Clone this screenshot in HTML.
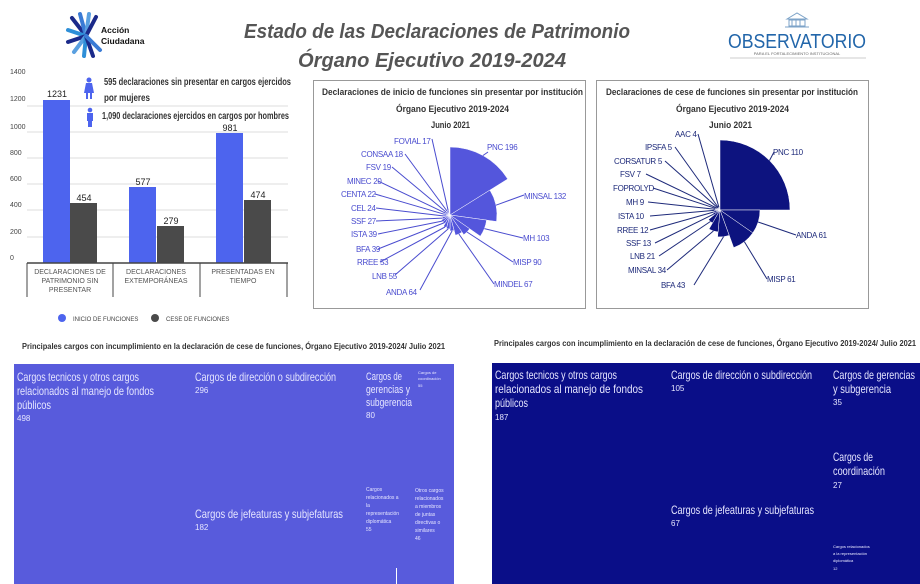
<!DOCTYPE html>
<html><head><meta charset="utf-8"><style>
html,body{margin:0;padding:0;background:#fff;}
svg{display:block;}
.n{font-family:"Liberation Sans Narrow","Liberation Sans",sans-serif;}
.s{font-family:"Liberation Sans",sans-serif;}
</style></head><body>
<svg id="g" width="920" height="584" viewBox="0 0 920 584" xmlns="http://www.w3.org/2000/svg">
<!-- logo -->
<g stroke-width="4" stroke-linecap="round">
<line x1="86" y1="36" x2="72" y2="18" stroke="#1b2a8a"/>
<line x1="86" y1="36" x2="80" y2="14" stroke="#3a7bd5"/>
<line x1="86" y1="36" x2="89" y2="14" stroke="#5aa0e0"/>
<line x1="86" y1="36" x2="96" y2="17" stroke="#1b2a8a"/>
<line x1="86" y1="36" x2="68" y2="30" stroke="#2e8fd8"/>
<line x1="86" y1="36" x2="68" y2="42" stroke="#1b2a8a"/>
<line x1="86" y1="36" x2="74" y2="52" stroke="#5aa0e0"/>
<line x1="86" y1="36" x2="84" y2="56" stroke="#2e8fd8"/>
<line x1="86" y1="36" x2="93" y2="56" stroke="#1b2a8a"/>
<line x1="86" y1="36" x2="100" y2="50" stroke="#3a7bd5"/>
</g>
<text x="101" y="33" class="s" font-size="8.5" font-weight="bold" fill="#111">Acción</text>
<text x="101" y="44" class="s" font-size="8.5" font-weight="bold" fill="#111">Ciudadana</text>
<!-- title -->
<text x="244" y="38" textLength="386" lengthAdjust="spacingAndGlyphs" class="s" font-size="20" font-weight="bold" font-style="italic" fill="#555">Estado de las Declaraciones de Patrimonio</text>
<text x="298" y="67" textLength="268" lengthAdjust="spacingAndGlyphs" class="s" font-size="20" font-weight="bold" font-style="italic" fill="#555">Órgano Ejecutivo 2019-2024</text>
<!-- observatorio -->
<g fill="none" stroke="#7da3c8" stroke-width="1">
<path d="M787 19 L797 13 L807 19 Z"/><rect x="789" y="20" width="16" height="6"/>
<line x1="792" y1="20" x2="792" y2="26"/><line x1="796" y1="20" x2="796" y2="26"/><line x1="800" y1="20" x2="800" y2="26"/><line x1="785" y1="27" x2="809" y2="27"/>
</g>
<text x="728" y="48" textLength="138" lengthAdjust="spacingAndGlyphs" class="s" font-size="20" fill="#2266aa">OBSERVATORIO</text>
<text x="797" y="55" text-anchor="middle" class="s" font-size="4" fill="#666">PARA EL FORTALECIMIENTO INSTITUCIONAL</text>
<line x1="730" y1="58" x2="866" y2="58" stroke="#ccc"/>

<!-- bar chart -->
<g class="s" font-size="7" fill="#444">
<text x="10" y="74">1400</text><text x="10" y="101">1200</text><text x="10" y="129">1000</text>
<text x="10" y="155">800</text><text x="10" y="181">600</text><text x="10" y="207">400</text>
<text x="10" y="234">200</text><text x="10" y="260">0</text>
</g>
<g stroke="#ddd" stroke-width="1">
<line x1="27" y1="106" x2="288" y2="106"/><line x1="27" y1="132" x2="288" y2="132"/><line x1="27" y1="158" x2="288" y2="158"/>
<line x1="27" y1="184" x2="288" y2="184"/><line x1="27" y1="210" x2="288" y2="210"/><line x1="27" y1="237" x2="288" y2="237"/>
</g>
<g fill="#4d64ee">
<rect x="43" y="100" width="27" height="163"/><rect x="129" y="187" width="27" height="76"/><rect x="216" y="133" width="27" height="130"/>
</g>
<g fill="#4a4a4a">
<rect x="70" y="203" width="27" height="60"/><rect x="157" y="226" width="27" height="37"/><rect x="244" y="200" width="27" height="63"/>
</g>
<g class="s" font-size="9" fill="#222" text-anchor="middle">
<text x="57" y="97">1231</text><text x="84" y="201">454</text><text x="143" y="185">577</text>
<text x="171" y="224">279</text><text x="230" y="131">981</text><text x="258" y="198">474</text>
</g>
<line x1="27" y1="263" x2="288" y2="263" stroke="#444" stroke-width="1.5"/>
<g stroke="#444"><line x1="27" y1="263" x2="27" y2="297"/><line x1="113" y1="263" x2="113" y2="297"/><line x1="200" y1="263" x2="200" y2="297"/><line x1="287" y1="263" x2="287" y2="297"/></g>
<g class="s" font-size="7" fill="#555" text-anchor="middle">
<text x="70" y="274">DECLARACIONES DE</text><text x="70" y="283">PATRIMONIO SIN</text><text x="70" y="292">PRESENTAR</text>
<text x="156" y="274">DECLARACIONES</text><text x="156" y="283">EXTEMPORÁNEAS</text>
<text x="243" y="274">PRESENTADAS EN</text><text x="243" y="283">TIEMPO</text>
</g>
<circle cx="62" cy="318" r="4" fill="#4d64ee"/><text x="73" y="321" class="s" font-size="6" fill="#444">INICIO DE FUNCIONES</text>
<circle cx="155" cy="318" r="4" fill="#4a4a4a"/><text x="166" y="321" class="s" font-size="6" fill="#444">CESE DE FUNCIONES</text>
<!-- figures -->
<circle cx="89" cy="80" r="2.5" fill="#4d64ee"/><path d="M86 83 L92 83 L94 93 L84 93 Z" fill="#4d64ee"/><rect x="86" y="93" width="2" height="6" fill="#4d64ee"/><rect x="90" y="93" width="2" height="6" fill="#4d64ee"/>
<circle cx="90" cy="110" r="2.3" fill="#4d64ee"/><rect x="87" y="113" width="6" height="8" fill="#4d64ee"/><rect x="88" y="121" width="4" height="6" fill="#4d64ee"/>
<g class="s" font-size="10" font-weight="bold" fill="#333" lengthAdjust="spacingAndGlyphs">
<text x="104" y="85" textLength="187" lengthAdjust="spacingAndGlyphs">595 declaraciones sin presentar en cargos ejercidos</text>
<text x="104" y="101" textLength="46" lengthAdjust="spacingAndGlyphs">por mujeres</text>
<text x="102" y="119" textLength="187" lengthAdjust="spacingAndGlyphs">1,090 declaraciones ejercidos en cargos por hombres</text>
</g>

<!-- chart 2 box -->
<rect x="313.5" y="80.5" width="272" height="228" fill="none" stroke="#999"/>
<g class="s" font-size="9" font-weight="bold" fill="#333">
<text x="322" y="95" textLength="261" lengthAdjust="spacingAndGlyphs">Declaraciones de inicio de funciones sin presentar por institución</text>
<text x="396" y="112" textLength="113" lengthAdjust="spacingAndGlyphs">Órgano Ejecutivo 2019-2024</text>
<text x="431" y="128" textLength="39" lengthAdjust="spacingAndGlyphs">Junio 2021</text>
</g>
<g id="w2" fill="#5456dc" stroke="#fff" stroke-width="0.5"></g>
<g id="l2" fill="none" stroke="#4a4ccf" stroke-width="1"></g>
<g class="s" font-size="8" fill="#4a4ccf" letter-spacing="-0.3">
<text x="487" y="150">PNC 196</text><text x="524" y="199">MINSAL 132</text><text x="523" y="241">MH 103</text>
<text x="513" y="265">MISP 90</text><text x="494" y="287">MINDEL 67</text><text x="386" y="295">ANDA 64</text>
<text x="372" y="279">LNB 55</text><text x="357" y="265">RREE 53</text><text x="356" y="252">BFA 39</text>
<text x="351" y="237">ISTA 39</text><text x="351" y="224">SSF 27</text><text x="351" y="211">CEL 24</text>
<text x="341" y="197">CENTA 22</text><text x="347" y="184">MINEC 20</text><text x="366" y="170">FSV 19</text>
<text x="361" y="157">CONSAA 18</text><text x="394" y="144">FOVIAL 17</text>
</g>

<!-- chart 3 box -->
<rect x="596.5" y="80.5" width="272" height="228" fill="none" stroke="#999"/>
<g class="s" font-size="9" font-weight="bold" fill="#333">
<text x="606" y="95" textLength="252" lengthAdjust="spacingAndGlyphs">Declaraciones de cese de funciones sin presentar por institución</text>
<text x="676" y="112" textLength="113" lengthAdjust="spacingAndGlyphs">Órgano Ejecutivo 2019-2024</text>
<text x="709" y="128" textLength="43" lengthAdjust="spacingAndGlyphs">Junio 2021</text>
</g>
<g id="w3" fill="#0d137f" stroke="#fff" stroke-width="0.5"></g>
<g id="l3" fill="none" stroke="#1e2a7a" stroke-width="1"></g>
<g class="s" font-size="8" fill="#1e2a7a" letter-spacing="-0.3">
<text x="773" y="155">PNC 110</text><text x="796" y="238">ANDA 61</text><text x="767" y="282">MISP 61</text>
<text x="661" y="288">BFA 43</text><text x="628" y="273">MINSAL 34</text><text x="630" y="259">LNB 21</text>
<text x="626" y="246">SSF 13</text><text x="617" y="233">RREE 12</text><text x="618" y="219">ISTA 10</text>
<text x="626" y="205">MH 9</text><text x="613" y="191">FOPROLYD</text><text x="620" y="177">FSV 7</text>
<text x="614" y="164">CORSATUR 5</text><text x="645" y="150">IPSFA 5</text><text x="675" y="137">AAC 4</text>
</g>

<!-- treemap titles -->
<text x="22" y="349" textLength="423" lengthAdjust="spacingAndGlyphs" class="s" font-size="8" font-weight="bold" fill="#333">Principales cargos con incumplimiento en la declaración de cese de funciones, Órgano Ejecutivo 2019-2024/ Julio 2021</text>
<text x="494" y="346" textLength="422" lengthAdjust="spacingAndGlyphs" class="s" font-size="8" font-weight="bold" fill="#333">Principales cargos con incumplimiento en la declaración de cese de funciones, Órgano Ejecutivo 2019-2024/ Julio 2021</text>

<!-- left treemap -->
<rect x="14" y="364" width="440" height="220" fill="#585bdc"/>
<line x1="396.5" y1="568" x2="396.5" y2="584" stroke="#fff"/>
<g class="s" fill="#e6e6ff">
<g font-size="12"><text x="17" y="381" textLength="122" lengthAdjust="spacingAndGlyphs">Cargos tecnicos y otros cargos</text><text x="17" y="395" textLength="137" lengthAdjust="spacingAndGlyphs">relacionados al manejo de fondos</text><text x="17" y="409" textLength="34" lengthAdjust="spacingAndGlyphs">públicos</text></g>
<text x="17" y="421" font-size="8">498</text>
<text x="195" y="381" font-size="12" textLength="141" lengthAdjust="spacingAndGlyphs">Cargos de dirección o subdirección</text><text x="195" y="393" font-size="8">296</text>
<g font-size="11"><text x="366" y="380" textLength="36" lengthAdjust="spacingAndGlyphs">Cargos de</text><text x="366" y="393" textLength="44" lengthAdjust="spacingAndGlyphs">gerencias y</text><text x="366" y="406" textLength="46" lengthAdjust="spacingAndGlyphs">subgerencia</text></g><text x="366" y="418" font-size="8">80</text>
<g font-size="4"><text x="418" y="374">Cargos de</text><text x="418" y="380">coordinación</text><text x="418" y="387">55</text></g>
<text x="195" y="518" font-size="12" textLength="148" lengthAdjust="spacingAndGlyphs">Cargos de jefeaturas y subjefaturas</text><text x="195" y="530" font-size="8">182</text>
<g font-size="5"><text x="366" y="491">Cargos</text><text x="366" y="499">relacionados a</text><text x="366" y="507">la</text><text x="366" y="515">representación</text><text x="366" y="523">diplomática</text><text x="366" y="531">55</text></g>
<g font-size="5"><text x="415" y="492">Otros cargos</text><text x="415" y="500">relacionados</text><text x="415" y="508">a miembros</text><text x="415" y="516">de juntas</text><text x="415" y="524">directivas o</text><text x="415" y="532">similares</text><text x="415" y="540">46</text></g>
</g>

<!-- right treemap -->
<rect x="492" y="363" width="428" height="221" fill="#0a0e88"/>
<g class="s" fill="#e6e6ff">
<g font-size="12"><text x="495" y="379" textLength="122" lengthAdjust="spacingAndGlyphs">Cargos tecnicos y otros cargos</text><text x="495" y="393" textLength="148" lengthAdjust="spacingAndGlyphs">relacionados al manejo de fondos</text><text x="495" y="407" textLength="33" lengthAdjust="spacingAndGlyphs">públicos</text></g>
<text x="495" y="420" font-size="8">187</text>
<text x="671" y="379" font-size="12" textLength="141" lengthAdjust="spacingAndGlyphs">Cargos de dirección o subdirección</text><text x="671" y="391" font-size="8">105</text>
<g font-size="12"><text x="833" y="379" textLength="82" lengthAdjust="spacingAndGlyphs">Cargos de gerencias</text><text x="833" y="393" textLength="58" lengthAdjust="spacingAndGlyphs">y subgerencia</text></g><text x="833" y="405" font-size="8">35</text>
<g font-size="12"><text x="833" y="461" textLength="40" lengthAdjust="spacingAndGlyphs">Cargos de</text><text x="833" y="475" textLength="52" lengthAdjust="spacingAndGlyphs">coordinación</text></g><text x="833" y="488" font-size="8">27</text>
<text x="671" y="514" font-size="12" textLength="143" lengthAdjust="spacingAndGlyphs">Cargos de jefeaturas y subjefaturas</text><text x="671" y="526" font-size="8">67</text>
<g font-size="4"><text x="833" y="548">Cargos relacionados</text><text x="833" y="555">a la representación</text><text x="833" y="562">diplomática</text><text x="833" y="570">12</text></g>
</g>
</svg>
<script>
function wedge(cx,cy,a0,a1,r){var t=function(a){a=(a-90)*Math.PI/180;return [cx+r*Math.cos(a),cy+r*Math.sin(a)];};var p=t(a0),q=t(a1);return 'M'+cx+' '+cy+'L'+p[0].toFixed(1)+' '+p[1].toFixed(1)+'A'+r+' '+r+' 0 0 1 '+q[0].toFixed(1)+' '+q[1].toFixed(1)+'Z';}
function draw(id,lid,cx,cy,data,labels){var g=document.getElementById(id),l=document.getElementById(lid),ns='http://www.w3.org/2000/svg';
data.forEach(function(d,i){var p=document.createElementNS(ns,'path');p.setAttribute('d',wedge(cx,cy,d[0],d[1],d[2]));g.appendChild(p);
var am=((d[0]+d[1])/2-90)*Math.PI/180;var sx=cx+d[2]*Math.cos(am),sy=cy+d[2]*Math.sin(am);var L=labels[i];
var ln=document.createElementNS(ns,'polyline');ln.setAttribute('points',sx.toFixed(1)+','+sy.toFixed(1)+' '+L[0]+','+L[1]);l.appendChild(ln);});}
draw('w2','l2',450,215,[[0,58,68],[58,98,47],[98,125,37],[125,145,24],[145,165,21],[165,180,16],[180,195,14],[195,210,13],[210,225,10],[225,240,10],[240,255,8],[255,270,7],[270,285,6],[285,300,5],[300,315,5],[315,330,5],[330,345,5]],
[[488,152],[524,195],[523,238],[513,262],[494,284],[420,290],[395,275],[380,262],[378,249],[378,234],[376,221],[376,208],[375,194],[378,181],[392,167],[405,154],[432,139]]);
draw('w3','l3',720,210,[[0,90,70],[90,125,40],[125,160,40],[160,185,27],[185,210,22],[210,230,15],[230,245,8],[245,260,7],[260,272,6],[272,284,5],[284,296,5],[296,308,4],[308,320,3],[320,332,3],[332,344,3]],
[[774,152],[796,235],[767,279],[694,285],[667,270],[659,256],[655,243],[650,230],[650,216],[648,202],[653,188],[646,174],[665,161],[675,147],[698,134]]);
</script>
</body></html>
